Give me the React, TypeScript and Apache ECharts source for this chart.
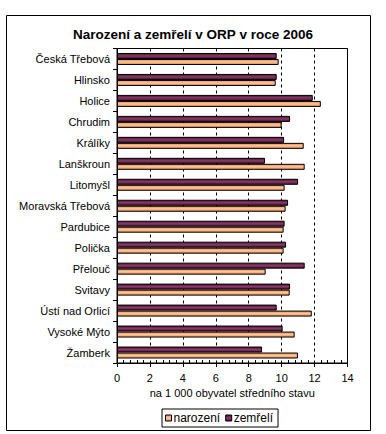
import React, { useEffect, useRef } from "react";
import * as echarts from "echarts";

const categories = [
  "Česká Třebová",
  "Hlinsko",
  "Holice",
  "Chrudim",
  "Králíky",
  "Lanškroun",
  "Litomyšl",
  "Moravská Třebová",
  "Pardubice",
  "Polička",
  "Přelouč",
  "Svitavy",
  "Ústí nad Orlicí",
  "Vysoké Mýto",
  "Žamberk",
];

const narozeni = [9.82, 9.64, 12.38, 10.0, 11.34, 11.4, 10.18, 10.24, 10.12, 10.12, 9.03, 10.49, 11.83, 10.79, 10.99];
const zemreli = [9.7, 9.7, 11.89, 10.51, 10.15, 8.99, 11.0, 10.39, 10.18, 10.27, 11.4, 10.51, 9.7, 10.06, 8.81];

const xTicks = { min: 0, max: 14, interval: 2 };

const titleText = "Narození a zemřelí v ORP v roce 2006";
const axisTitle = "na 1 000 obyvatel středního stavu";
const seriesNames = ["narození", "zemřelí"];

const FONT = "'Liberation Sans', Arial, sans-serif";

export default function App() {
  const ref = useRef<HTMLDivElement>(null);

  useEffect(() => {
    if (!ref.current) return;
    const chart = echarts.init(ref.current, undefined, { renderer: "svg" });
    const darkGrad = new echarts.graphic.LinearGradient(0, 0, 0, 1, [
      { offset: 0, color: "#4e1436" },
      { offset: 0.5, color: "#8a3a68" },
      { offset: 1, color: "#4e1436" },
    ]);
    const orangeGrad = new echarts.graphic.LinearGradient(0, 0, 0, 1, [
      { offset: 0, color: "#e48a52" },
      { offset: 0.5, color: "#ffc89c" },
      { offset: 1, color: "#e48a52" },
    ]);
    chart.setOption({
      animation: false,
      backgroundColor: "#ffffff",
      textStyle: { fontFamily: FONT, color: "#000" },
      graphic: [
        {
          type: "rect",
          shape: { x: 6.5, y: 15.5, width: 364, height: 415 },
          style: { fill: "none", stroke: "#000", lineWidth: 1 },
          silent: true,
          z: -10,
        },
      ],
      title: {
        text: titleText,
        left: 188,
        textAlign: "center",
        top: 22,
        textStyle: { fontFamily: FONT, fontSize: 13.5, fontWeight: "bold", color: "#000" },
      },
      legend: {
        data: seriesNames,
        left: 162,
        top: 409,
        padding: [3, 5, 3, 3],
        borderColor: "#000",
        borderWidth: 1,
        itemWidth: 6,
        itemHeight: 6,
        itemGap: 5,
        icon: "rect",
        itemStyle: { borderColor: "#000", borderWidth: 1 },
        textStyle: { fontFamily: FONT, fontSize: 12, color: "#000", padding: [0, 0, 0, -3] },
      },
      grid: {
        left: 117,
        top: 48.5,
        right: 38.5,
        bottom: 71,
        show: true,
        borderColor: "#000",
        borderWidth: 1,
        containLabel: false,
      },
      xAxis: {
        type: "value",
        min: xTicks.min,
        max: xTicks.max,
        interval: xTicks.interval,
        name: axisTitle,
        nameLocation: "middle",
        nameGap: 23,
        nameTextStyle: { fontFamily: FONT, fontSize: 11, color: "#000" },
        axisLine: { show: true, lineStyle: { color: "#000", width: 1 } },
        axisTick: { show: true, length: 4, lineStyle: { color: "#000" } },
        minorTick: { show: true, splitNumber: 5, length: -3, lineStyle: { color: "#000" } },
        axisLabel: { fontFamily: FONT, fontSize: 11, color: "#000", margin: 9 },
        splitLine: { show: true, lineStyle: { color: "#000", type: [3, 3], width: 1 } },
      },
      yAxis: {
        type: "category",
        data: categories,
        inverse: true,
        axisLine: { show: true, lineStyle: { color: "#000", width: 1 } },
        axisTick: { show: true, length: 4, lineStyle: { color: "#000" } },
        axisLabel: { fontFamily: FONT, fontSize: 11, color: "#000", margin: 7 },
        splitLine: { show: false },
      },
      series: [
        {
          name: "zemřelí",
          type: "bar",
          data: zemreli,
          barWidth: 6,
          barGap: "0%",
          itemStyle: { color: darkGrad, borderColor: "#000", borderWidth: 1 },
        },
        {
          name: "narození",
          type: "bar",
          data: narozeni,
          barWidth: 6,
          barGap: "0%",
          itemStyle: { color: orangeGrad, borderColor: "#000", borderWidth: 1 },
        },
      ],
    });
    return () => chart.dispose();
  }, []);

  return (
    <div
      ref={ref}
      style={{ position: "fixed", left: 0, top: 0, width: 386, height: 434, background: "#fff" }}
    />
  );
}
